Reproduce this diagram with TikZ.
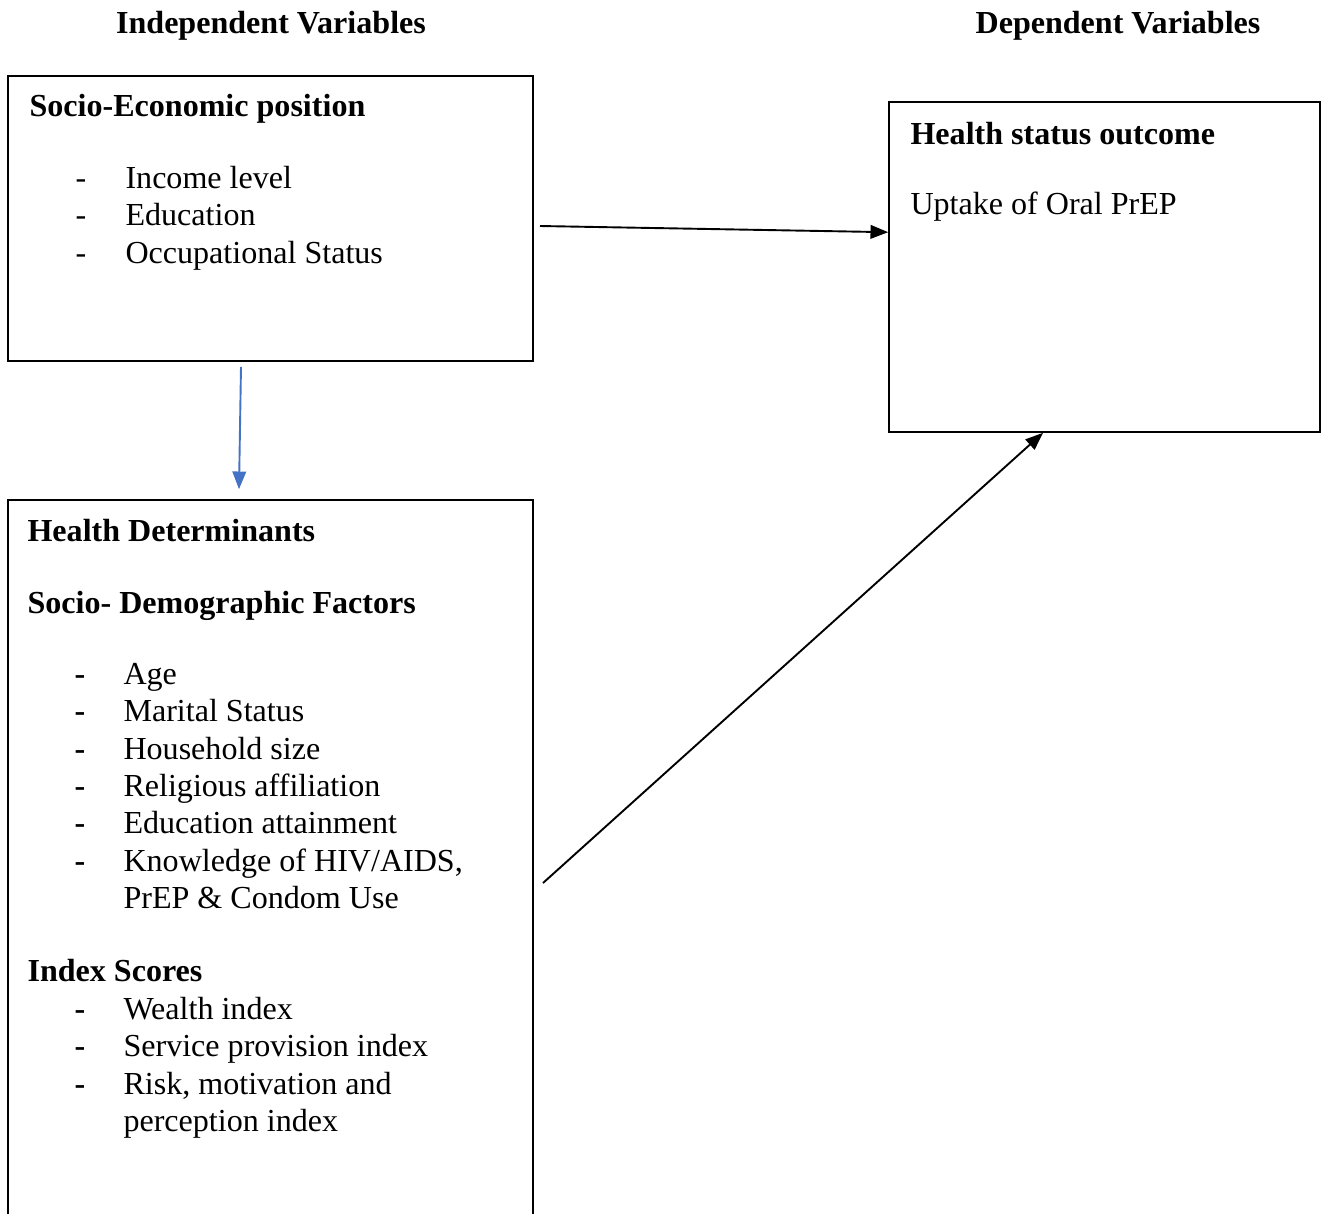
\documentclass[tikz,border=0pt]{standalone}
\usepackage{fontspec}
\setmainfont{Liberation Serif}
\usetikzlibrary{arrows.meta,fit,positioning}
\definecolor{arrowblue}{HTML}{4472C4}

\begin{document}
\begin{tikzpicture}[x=0.368pt, y=-0.368pt,
    font=\fontsize{11.8}{14}\selectfont,
    box/.style={draw, line width=0.6pt, inner sep=0pt},
    head/.style={anchor=base west, inner sep=0pt, font=\fontsize{11.8}{14}\selectfont\bfseries},
    txt/.style={anchor=base west, inner sep=0pt},
    link/.style={-{Triangle[length=6.5pt,width=5pt]}, line width=0.7pt}]
    \useasboundingbox (0,0) rectangle (1321,1214);
    \clip (0,0) rectangle (1321,1214);

    % column titles
    \node[head, anchor=base] (indep) at (271,33) {Independent Variables};
    \node[head, anchor=base] (dep) at (1118,33) {Dependent Variables};

    % boxes
    \node[box, fit={(8,76) (533,361)}] (sep) {};
    \node[box, fit={(889,102) (1320,432)}] (hso) {};
    \node[box, fit={(8,500) (533,1240)}] (hd) {};

    % socio-economic position
    \node[head] (sephead) at (29,116) {Socio-Economic position};
    \node[txt] (sepd1) at (75,188) {-};
    \node[txt] (sep1) at (125,188) {Income level};
    \node[txt] (sepd2) at (75,225) {-};
    \node[txt] (sep2) at (125,225) {Education};
    \node[txt] (sepd3) at (75,263) {-};
    \node[txt] (sep3) at (125,263) {Occupational Status};

    % health status outcome
    \node[head] (hsohead) at (910,144) {Health status outcome};
    \node[txt] (hso1) at (910,214) {Uptake of Oral PrEP};

    % health determinants
    \node[head] (hdhead) at (27,541) {Health Determinants};
    \node[head] (sdfhead) at (27,613) {Socio- Demographic Factors};
    \node[txt] (hdd1) at (74,684) {\bfseries -};
    \node[txt] (hd1) at (123,684) {Age};
    \node[txt] (hdd2) at (74,721) {\bfseries -};
    \node[txt] (hd2) at (123,721) {Marital Status};
    \node[txt] (hdd3) at (74,759) {\bfseries -};
    \node[txt] (hd3) at (123,759) {Household size};
    \node[txt] (hdd4) at (74,796) {\bfseries -};
    \node[txt] (hd4) at (123,796) {Religious affiliation};
    \node[txt] (hdd5) at (74,833) {\bfseries -};
    \node[txt] (hd5) at (123,833) {Education attainment};
    \node[txt] (hdd6) at (74,871) {\bfseries -};
    \node[txt] (hd6) at (123,871) {Knowledge of HIV/AIDS,};
    \node[txt] (hd6b) at (123,908) {PrEP \& Condom Use};

    \node[head] (ishead) at (27,981) {Index Scores};
    \node[txt] (isd1) at (74,1019) {\bfseries -};
    \node[txt] (is1) at (123,1019) {Wealth index};
    \node[txt] (isd2) at (74,1056) {\bfseries -};
    \node[txt] (is2) at (123,1056) {Service provision index};
    \node[txt] (isd3) at (74,1094) {\bfseries -};
    \node[txt] (is3) at (123,1094) {Risk, motivation and};
    \node[txt] (is3b) at (123,1131) {perception index};

    % connectors
    \coordinate (sepout) at (540,226);
    \coordinate (hdout) at (543,883);
    \draw[link] (sepout) -- ([shift={(0,131)}]hso.north west);
    \draw[link, arrowblue] ([shift={(-29.5,5)}]sep.south) -- ([shift={(-31.5,-10)}]hd.north);
    \draw[link] (hdout) -- ([shift={(-61.5,0)}]hso.south);
\end{tikzpicture}
\end{document}
